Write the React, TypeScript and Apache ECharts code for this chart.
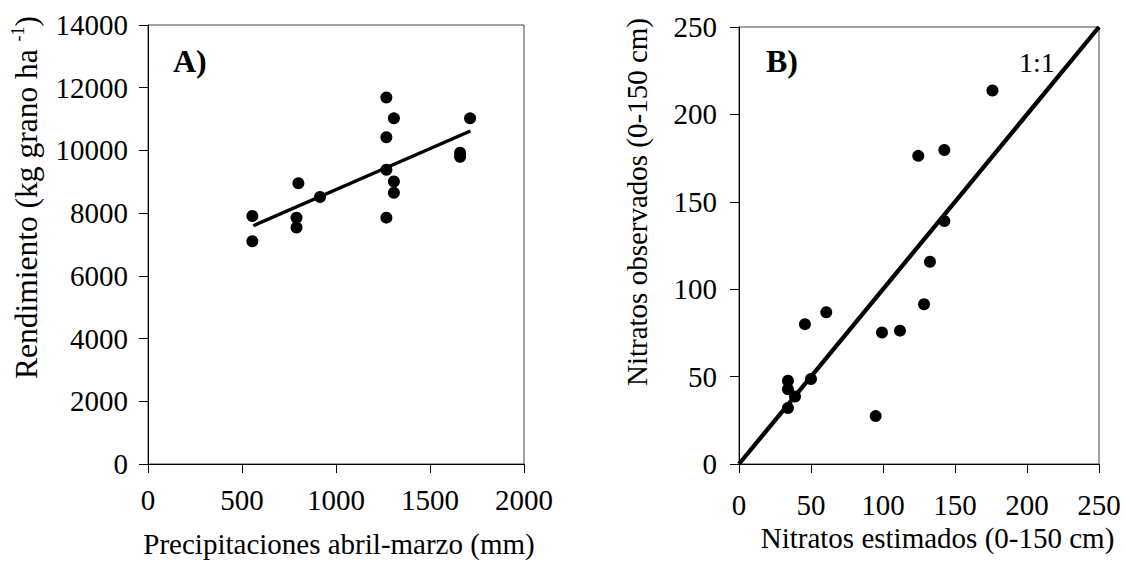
import React, { useEffect, useRef } from "react";
import * as echarts from "echarts";

// Panel A: precipitation (mm) vs yield (kg grano ha-1)
const precipA = [555, 555, 800, 790, 790, 915, 1268, 1308, 1268, 1268, 1308, 1308, 1268, 1660, 1660, 1713];
const yieldA = [7910, 7105, 8954, 7857, 7544, 8516, 11690, 11023, 10418, 9384, 9008, 8651, 7857, 9926, 9800, 11023];
const fitX = [560, 1715];
const fitY = [7600, 10620];
const ticksAX = [0, 500, 1000, 1500, 2000];
const ticksAY = [0, 2000, 4000, 6000, 8000, 10000, 12000, 14000];

// Panel B: estimated vs observed nitrates (0-150 cm)
const estB = [176, 124.5, 142.6, 142.6, 132.6, 128.5, 111.8, 99.3, 94.9, 60.6, 45.8, 50, 34, 34, 38.9, 34];
const obsB = [213.7, 176.3, 179.6, 139, 115.7, 91.4, 76.3, 75.2, 27.4, 86.8, 80, 48.6, 47.6, 42.8, 38.6, 32];
const oneToOne = [0, 250];
const ticksB = [0, 50, 100, 150, 200, 250];

const FONT = "'Liberation Serif', 'Times New Roman', serif";
const FS = 29;

export default function App() {
  const ref = useRef<HTMLDivElement>(null);
  useEffect(() => {
    if (!ref.current) return;
    const chart = echarts.init(ref.current, null, { renderer: "svg" });
    const axisCommon = {
      type: "value",
      axisLine: { show: true, lineStyle: { color: "#000", width: 1 } },
      axisTick: { show: true, inside: false, length: 9, lineStyle: { color: "#000", width: 1 } },
      splitLine: { show: false },
      axisLabel: { color: "#000", fontFamily: FONT, fontSize: FS, formatter: (v: number) => String(v) },
      nameLocation: "middle",
      nameTextStyle: { color: "#000", fontFamily: FONT, fontSize: FS },
    };
    chart.setOption({
      animation: false,
      backgroundColor: "#fff",
      grid: [
        { left: 148, top: 25, width: 376, height: 447, show: true, borderColor: "#444", borderWidth: 1, backgroundColor: "transparent" },
        { left: 739, top: 27, width: 360, height: 437, show: true, borderColor: "#444", borderWidth: 1, backgroundColor: "transparent" },
      ],
      xAxis: [
        {
          ...axisCommon,
          gridIndex: 0,
          min: ticksAX[0],
          max: ticksAX[ticksAX.length - 1],
          interval: 500,
          axisLabel: { ...axisCommon.axisLabel, margin: 21 },
          name: "Precipitaciones abril-marzo (mm)",
          nameGap: 65,
          nameTextStyle: { ...axisCommon.nameTextStyle, padding: [0, 0, 0, 6] },
        },
        {
          ...axisCommon,
          gridIndex: 1,
          min: ticksB[0],
          max: ticksB[ticksB.length - 1],
          interval: 50,
          axisLabel: { ...axisCommon.axisLabel, margin: 26 },
          name: "Nitratos estimados (0-150 cm)",
          nameGap: 59,
          nameTextStyle: { ...axisCommon.nameTextStyle, padding: [0, 0, 0, 37] },
        },
      ],
      yAxis: [
        {
          ...axisCommon,
          gridIndex: 0,
          min: ticksAY[0],
          max: ticksAY[ticksAY.length - 1],
          interval: 2000,
          axisLabel: { ...axisCommon.axisLabel, margin: 20 },
          name: "Rendimiento (kg grano ha {sup|-1})",
          nameGap: 105,
          nameTextStyle: {
            ...axisCommon.nameTextStyle,
            fontSize: 31.5,
            lineHeight: 34,
            padding: [0, 0, 0, 94],
            rich: {
              sup: { fontFamily: FONT, fontSize: 18, color: "#000", verticalAlign: "top", lineHeight: 18 },
            },
          },
        },
        {
          ...axisCommon,
          gridIndex: 1,
          min: ticksB[0],
          max: ticksB[ticksB.length - 1],
          interval: 50,
          axisLabel: { ...axisCommon.axisLabel, margin: 22 },
          name: "Nitratos observados (0-150 cm)",
          nameGap: 88,
          nameTextStyle: { ...axisCommon.nameTextStyle, padding: [0, 0, 0, 87] },
        },
      ],
      series: [
        {
          type: "scatter",
          xAxisIndex: 0,
          yAxisIndex: 0,
          symbol: "circle",
          symbolSize: 12,
          itemStyle: { color: "#000", opacity: 1 },
          data: precipA.map((x, i) => [x, yieldA[i]]),
        },
        {
          type: "line",
          xAxisIndex: 0,
          yAxisIndex: 0,
          showSymbol: false,
          symbol: "none",
          lineStyle: { color: "#000", width: 3.3 },
          data: fitX.map((x, i) => [x, fitY[i]]),
        },
        {
          type: "scatter",
          xAxisIndex: 1,
          yAxisIndex: 1,
          symbol: "circle",
          symbolSize: 12,
          itemStyle: { color: "#000", opacity: 1 },
          data: estB.map((x, i) => [x, obsB[i]]),
        },
        {
          type: "line",
          xAxisIndex: 1,
          yAxisIndex: 1,
          showSymbol: false,
          symbol: "none",
          lineStyle: { color: "#000", width: 4.3 },
          data: oneToOne.map((v) => [v, v]),
        },
      ],
      graphic: [
        { type: "text", x: 173, y: 61, style: { text: "A)", fontFamily: FONT, fontSize: 32, fontWeight: "bold", fill: "#000", align: "left", verticalAlign: "middle" } },
        { type: "text", x: 766, y: 61, style: { text: "B)", fontFamily: FONT, fontSize: 32, fontWeight: "bold", fill: "#000", align: "left", verticalAlign: "middle" } },
        { type: "text", x: 1019, y: 62, style: { text: "1:1", fontFamily: FONT, fontSize: 28, fill: "#000", align: "left", verticalAlign: "middle" } },
      ],
    });
    return () => chart.dispose();
  }, []);
  return (
    <div
      ref={ref}
      style={{ position: "fixed", left: 0, top: 0, width: 1126, height: 563, background: "#fff" }}
    />
  );
}
